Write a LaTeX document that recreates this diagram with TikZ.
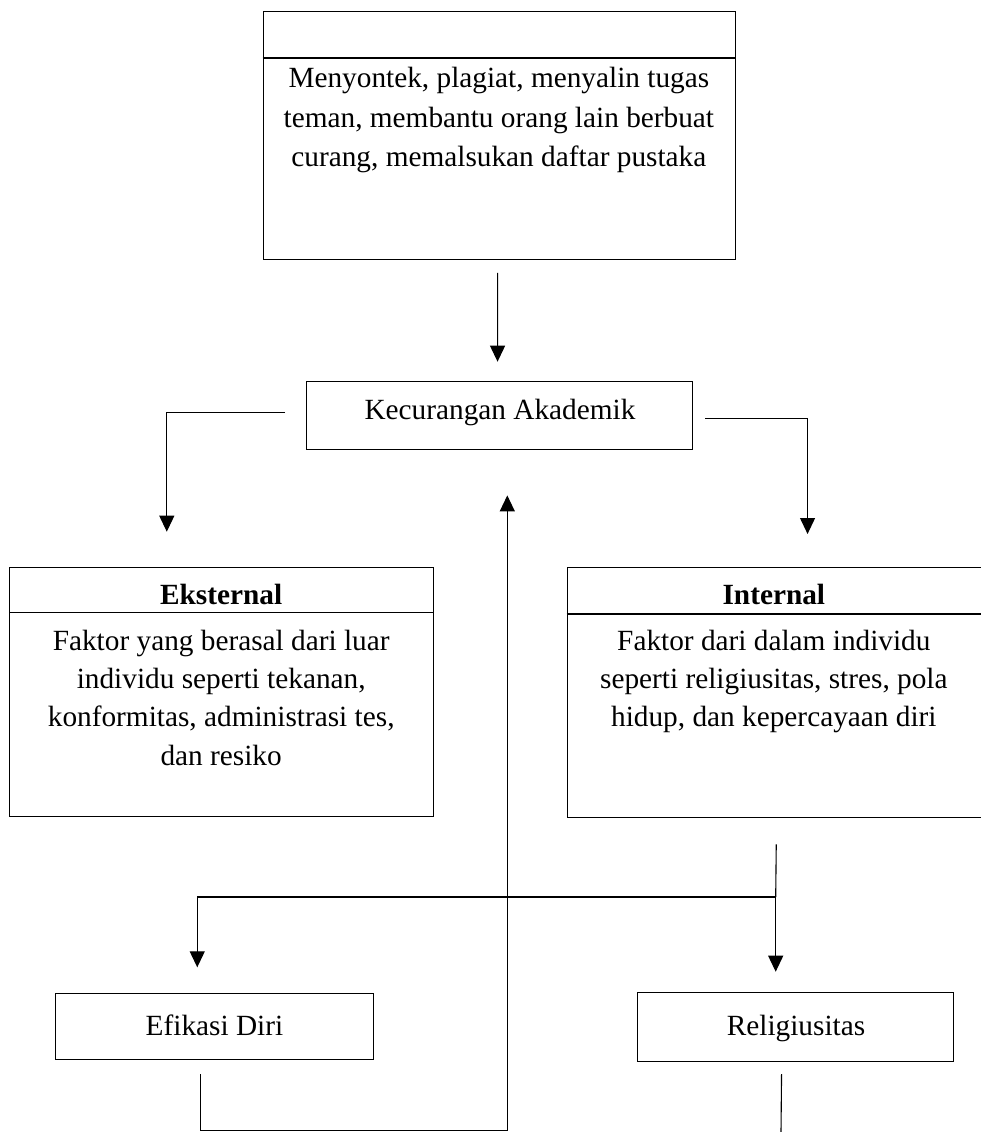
\documentclass[tikz,border=0pt]{standalone}
\usepackage{fontspec}
\setmainfont{Liberation Serif}
\usetikzlibrary{arrows.meta,calc}
\begin{document}
\begin{tikzpicture}[x=1pt,y=-1pt,
  box/.style={draw, line width=1.1pt, inner sep=0pt, anchor=north west},
  txt/.style={inner sep=0pt, align=center, font=\fontsize{29.3}{39.2}\selectfont},
  txtb/.style={inner sep=0pt, align=center, font=\fontsize{29.3}{38.2}\selectfont},
  ttl/.style={inner sep=0pt, anchor=base, font=\fontsize{29.3}{34}\selectfont\bfseries},
  ln/.style={line width=1.1pt},
  arr/.style={line width=1.1pt, -{Triangle[length=16pt,width=15pt]}}]
\useasboundingbox (0,0) rectangle (980,1132);

% top box
\node[box, minimum width=472.3pt, minimum height=248pt] (top) at (262.7,11) {};
\draw[ln] (top.west |- 0,58) -- (top.east |- 0,58);
\node[txt, anchor=north] (toptxt) at (498.85,67.3) {Menyontek, plagiat, menyalin tugas\\teman, membantu orang lain berbuat\\curang, memalsukan daftar pustaka};

% Kecurangan Akademik
\node[box, minimum width=386.6pt, minimum height=68pt] (kec) at (305.7,381) {};
\node[txt, anchor=base] (kectxt) at (500,419.3) {Kecurangan Akademik};

% Eksternal
\node[box, minimum width=424.3pt, minimum height=249pt] (eks) at (9,566.7) {};
\draw[ln] (eks.west |- 0,612.3) -- (eks.east |- 0,612.3);
\node[ttl] (ekst) at (221.2,604) {Eksternal};
\node[txtb, anchor=north] (eksb) at (221.2,630) {Faktor yang berasal dari luar\\individu seperti tekanan,\\konformitas, administrasi tes,\\dan resiko};

% Internal
\node[box, minimum width=414.3pt, minimum height=250pt] (int) at (566.7,566.7) {};
\draw[ln] (int.west |- 0,614) -- (int.east |- 0,614);
\node[ttl] (intt) at (773.85,604) {Internal};
\node[txtb, anchor=north] (intb) at (773.85,630) {Faktor dari dalam individu\\seperti religiusitas, stres, pola\\hidup, dan kepercayaan diri};

% Efikasi Diri
\node[box, minimum width=317.7pt, minimum height=66pt] (efi) at (55,993) {};
\node[txt, anchor=base] (efitxt) at (214.5,1035) {Efikasi Diri};

% Religiusitas
\node[box, minimum width=316pt, minimum height=69pt] (rel) at (637,992) {};
\node[txt, anchor=base] (reltxt) at (796,1035) {Religiusitas};

% connectors
\draw[arr, shorten <=12.7pt, shorten >=19.3pt] ([xshift=-1.85pt]top.south) -- ([xshift=-2pt]kec.north);
\draw[arr, shorten >=35pt] ([shift={(-20.7pt,3pt)}]kec.west) -| ([xshift=-54.9pt]eks.north);
\draw[arr, shorten >=32.7pt] ([shift={(12pt,-2.7pt)}]kec.east) -| ([xshift=33.15pt]int.north);

\coordinate (j) at (775.7,897);
\draw[ln] ([shift={(1.85pt,-26.6pt)}]int.south) -- (j);
\draw[arr, shorten >=25.7pt] (j) -| ([xshift=-17.15pt]efi.north);
\draw[arr, shorten >=20.3pt] (j) -- (j |- rel.north);

\coordinate (b) at (507.3,1130.7);
\draw[arr, shorten >=45.3pt] ([shift={(-13.85pt,-14.3pt)}]efi.south) |- (b) -- (b |- kec.south);

\coordinate (relend) at (781,1132);
\draw[ln] ([shift={(-14pt,-12pt)}]rel.south) -- (relend);
\end{tikzpicture}
\end{document}
